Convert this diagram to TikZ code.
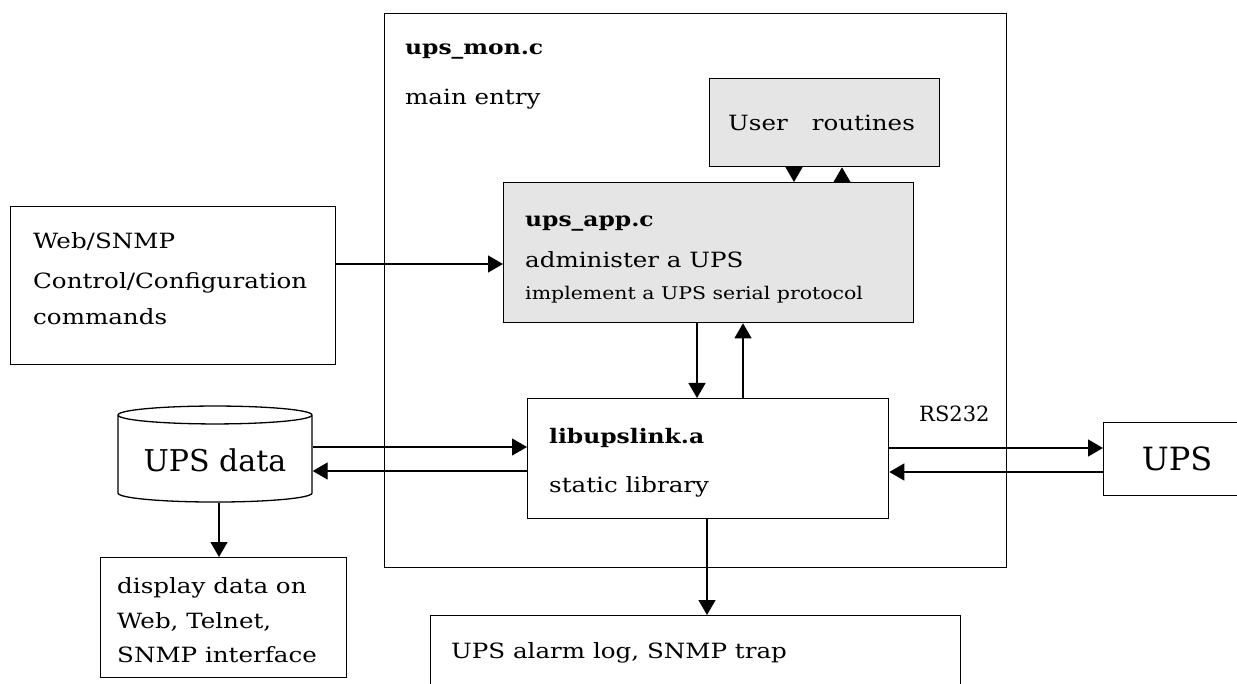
\documentclass[tikz,border=0pt]{standalone}
\usepackage{fontspec}
\setmainfont{DejaVu Serif}
\newfontfamily\widefont{DejaVu Serif}[FakeStretch=1.17]
\usetikzlibrary{arrows.meta,shapes.geometric}

\tikzset{
  blk/.style={draw,line width=1.3pt,anchor=north west,inner sep=0pt},
  shaded/.style={blk,fill=black!10},
  lbl/.style={anchor=base west,inner sep=0pt,font=\widefont\fontsize{21}{35}\selectfont},
  hdr/.style={lbl,font=\widefont\fontsize{20}{24}\selectfont\bfseries},
  big/.style={font=\fontsize{30}{36}\selectfont},
  arr/.style={line width=1.3pt,-{Triangle[length=15pt,width=17pt]}},
}

\begin{document}
\begin{tikzpicture}[x=1pt,y=-1pt]
\useasboundingbox (0,0) rectangle (1237,684);
% main program frame
\node[blk,minimum width=622pt,minimum height=554pt] (mon) at (384,13) {};
\node[hdr] (monname) at (405,55) {ups\_mon.c};
\node[lbl] (monentry) at (405,105) {main entry};
% inner modules
\node[shaded,minimum width=230pt,minimum height=88pt] (user) at (709,78) {};
\node[lbl] (usertxt) at (728,131) {User\hspace{24pt}routines};
\node[shaded,minimum width=410pt,minimum height=140pt] (app) at (503,182) {};
\node[hdr] (appname) at (525,227) {ups\_app.c};
\node[lbl] (apptxt) at (525,268) {administer a UPS};
\node[lbl,font=\widefont\fontsize{17.5}{20}\selectfont] (appproto) at (525,300) {implement a UPS serial protocol};
\node[blk,minimum width=361pt,minimum height=120pt] (lib) at (527,398) {};
\node[hdr] (libname) at (549,443) {libupslink.a};
\node[lbl] (libtxt) at (549,492) {static library};
% outside
\node[blk,minimum width=325pt,minimum height=158pt] (web) at (10,206) {};
\foreach \y/\txt [count=\i] in {249/Web\slash SNMP,289/Control\slash Configuration,325/commands}
  \node[lbl] (web\i) at (33,\y) {\txt};
\node[draw,line width=1.3pt,cylinder,shape border rotate=90,aspect=0.12,
  minimum width=194pt,minimum height=96pt,big] (data) at (215,460) {\raisebox{-9pt}{UPS data}};
\node[blk,minimum width=246pt,minimum height=120pt] (disp) at (100,557) {};
\foreach \y/\txt [count=\i] in {593/display data on,628/{Web, Telnet,},662/SNMP interface}
  \node[lbl] (disp\i) at (117,\y) {\txt};
\node[blk,minimum width=160pt,minimum height=73pt] (ups) at (1103,422) {};
\node[big,font=\fontsize{32}{36}\selectfont,anchor=base] (upstxt) at (1177,470) {UPS};
\node[lbl,font=\fontsize{21}{24}\selectfont] (rs) at (919,421) {RS232};
\node[blk,minimum width=530pt,minimum height=90pt] (alarm) at (430,615) {};
\node[lbl] (alarmtxt) at (451,658) {UPS alarm log, SNMP trap};
% connectors
\draw[arr] (user.south -| 794,0) -- (app.north -| 794,0);
\draw[arr] (app.north -| 842,0) -- (user.south -| 842,0);
\draw[arr] (web.east |- 0,264) -- (app.west |- 0,264);
\draw[arr] (app.south -| 697,0) -- (lib.north -| 697,0);
\draw[arr] (lib.north -| 743,0) -- (app.south -| 743,0);
\draw[arr] (data.east |- 0,447) -- (lib.west |- 0,447);
\draw[arr] (lib.west |- 0,471) -- (data.east |- 0,471);
\draw[arr] (lib.east |- 0,448) -- (ups.west |- 0,448);
\draw[arr] (ups.west |- 0,472) -- (lib.east |- 0,472);
\draw[arr] (data.south -| 219,0) -- (disp.north -| 219,0);
\draw[arr] (lib.south -| 707,0) -- (alarm.north -| 707,0);
\end{tikzpicture}
\end{document}
